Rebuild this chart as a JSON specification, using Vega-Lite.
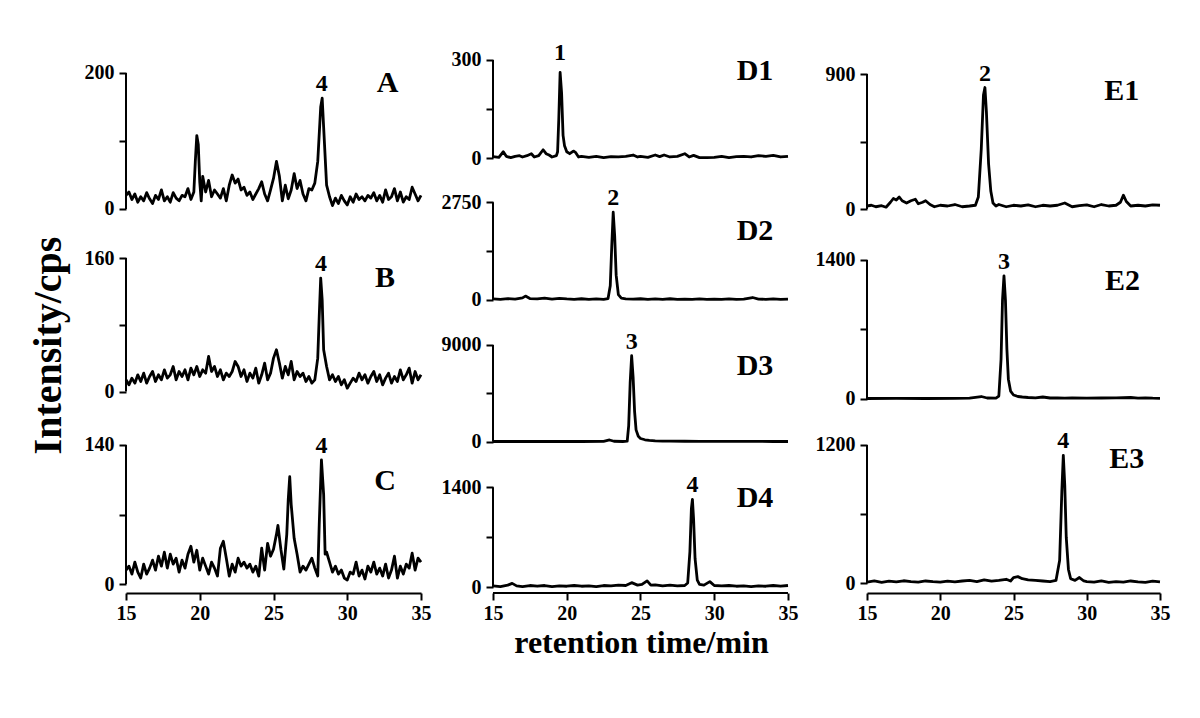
{
"$schema":"https://vega.github.io/schema/vega-lite/v6.json",
"background":"white",
"padding":{"left":28,"top":40,"right":5,"bottom":5},
"config":{
"view":{"stroke":null,"fill":"white"},
"axis":{"labelFont":"Liberation Serif","labelFontWeight":"bold","labelFontSize":20,"labelColor":"#000","tickColor":"#000","tickWidth":2,"tickSize":7,"domainColor":"#000","domainWidth":2,"labelPadding":3,"labelFlush":false,"labelOverlap":false,"grid":false,"titleFont":"Liberation Serif","titleFontWeight":"bold","titleColor":"#000"},
"axisY":{"labelPadding":5},
"text":{"font":"Liberation Serif","fontWeight":"bold","color":"#000"},
"line":{"color":"#000","strokeWidth":2.8,"strokeJoin":"round"}
},
"datasets":{
"A":[{"t":15,"v":20},{"t":15.2,"v":25},{"t":15.4,"v":14},{"t":15.6,"v":22},{"t":15.8,"v":10},{"t":16,"v":18},{"t":16.2,"v":12},{"t":16.4,"v":24},{"t":16.6,"v":15},{"t":16.8,"v":8},{"t":17,"v":20},{"t":17.2,"v":14},{"t":17.4,"v":28},{"t":17.6,"v":12},{"t":17.8,"v":18},{"t":18,"v":10},{"t":18.2,"v":24},{"t":18.4,"v":16},{"t":18.6,"v":12},{"t":18.8,"v":20},{"t":19,"v":18},{"t":19.2,"v":30},{"t":19.4,"v":14},{"t":19.6,"v":25},{"t":19.7,"v":70},{"t":19.8,"v":108},{"t":19.9,"v":95},{"t":20,"v":40},{"t":20.1,"v":12},{"t":20.2,"v":48},{"t":20.4,"v":25},{"t":20.6,"v":42},{"t":20.8,"v":18},{"t":21,"v":28},{"t":21.2,"v":22},{"t":21.4,"v":16},{"t":21.6,"v":30},{"t":21.8,"v":12},{"t":22,"v":35},{"t":22.2,"v":50},{"t":22.4,"v":38},{"t":22.6,"v":44},{"t":22.8,"v":28},{"t":23,"v":32},{"t":23.2,"v":20},{"t":23.4,"v":25},{"t":23.6,"v":14},{"t":23.8,"v":22},{"t":24,"v":30},{"t":24.2,"v":40},{"t":24.4,"v":22},{"t":24.6,"v":12},{"t":24.8,"v":28},{"t":25,"v":45},{"t":25.2,"v":70},{"t":25.4,"v":48},{"t":25.6,"v":12},{"t":25.8,"v":35},{"t":26,"v":15},{"t":26.2,"v":28},{"t":26.4,"v":52},{"t":26.6,"v":30},{"t":26.8,"v":42},{"t":27,"v":22},{"t":27.2,"v":12},{"t":27.4,"v":30},{"t":27.6,"v":28},{"t":27.8,"v":38},{"t":28,"v":70},{"t":28.2,"v":150},{"t":28.3,"v":163},{"t":28.4,"v":120},{"t":28.6,"v":35},{"t":28.8,"v":18},{"t":29,"v":5},{"t":29.2,"v":16},{"t":29.4,"v":8},{"t":29.6,"v":20},{"t":29.8,"v":12},{"t":30,"v":6},{"t":30.2,"v":18},{"t":30.4,"v":10},{"t":30.6,"v":22},{"t":30.8,"v":14},{"t":31,"v":18},{"t":31.2,"v":12},{"t":31.4,"v":20},{"t":31.6,"v":16},{"t":31.8,"v":24},{"t":32,"v":12},{"t":32.2,"v":20},{"t":32.4,"v":10},{"t":32.6,"v":28},{"t":32.8,"v":14},{"t":33,"v":18},{"t":33.2,"v":30},{"t":33.4,"v":12},{"t":33.6,"v":25},{"t":33.8,"v":10},{"t":34,"v":18},{"t":34.2,"v":14},{"t":34.4,"v":32},{"t":34.6,"v":22},{"t":34.8,"v":12},{"t":35,"v":20}],
"B":[{"t":15,"v":14},{"t":15.2,"v":8},{"t":15.4,"v":16},{"t":15.6,"v":10},{"t":15.8,"v":20},{"t":16,"v":12},{"t":16.2,"v":22},{"t":16.4,"v":10},{"t":16.6,"v":18},{"t":16.8,"v":24},{"t":17,"v":12},{"t":17.2,"v":20},{"t":17.4,"v":14},{"t":17.6,"v":26},{"t":17.8,"v":16},{"t":18,"v":20},{"t":18.2,"v":30},{"t":18.4,"v":14},{"t":18.6,"v":24},{"t":18.8,"v":18},{"t":19,"v":26},{"t":19.2,"v":14},{"t":19.4,"v":28},{"t":19.6,"v":20},{"t":19.8,"v":30},{"t":20,"v":18},{"t":20.2,"v":26},{"t":20.4,"v":22},{"t":20.6,"v":42},{"t":20.8,"v":24},{"t":21,"v":30},{"t":21.2,"v":18},{"t":21.4,"v":26},{"t":21.6,"v":14},{"t":21.8,"v":22},{"t":22,"v":18},{"t":22.2,"v":24},{"t":22.4,"v":36},{"t":22.6,"v":30},{"t":22.8,"v":18},{"t":23,"v":26},{"t":23.2,"v":12},{"t":23.4,"v":22},{"t":23.6,"v":16},{"t":23.8,"v":28},{"t":24,"v":10},{"t":24.2,"v":20},{"t":24.4,"v":34},{"t":24.6,"v":14},{"t":24.8,"v":22},{"t":25,"v":40},{"t":25.2,"v":50},{"t":25.4,"v":34},{"t":25.6,"v":16},{"t":25.8,"v":30},{"t":26,"v":20},{"t":26.2,"v":36},{"t":26.4,"v":14},{"t":26.6,"v":24},{"t":26.8,"v":18},{"t":27,"v":22},{"t":27.2,"v":12},{"t":27.4,"v":18},{"t":27.6,"v":10},{"t":27.8,"v":14},{"t":28,"v":40},{"t":28.1,"v":90},{"t":28.2,"v":136},{"t":28.3,"v":110},{"t":28.4,"v":50},{"t":28.6,"v":30},{"t":28.8,"v":14},{"t":29,"v":20},{"t":29.2,"v":12},{"t":29.4,"v":18},{"t":29.6,"v":8},{"t":29.8,"v":14},{"t":30,"v":4},{"t":30.2,"v":10},{"t":30.4,"v":16},{"t":30.6,"v":12},{"t":30.8,"v":22},{"t":31,"v":14},{"t":31.2,"v":20},{"t":31.4,"v":10},{"t":31.6,"v":18},{"t":31.8,"v":24},{"t":32,"v":12},{"t":32.2,"v":20},{"t":32.4,"v":8},{"t":32.6,"v":16},{"t":32.8,"v":22},{"t":33,"v":10},{"t":33.2,"v":18},{"t":33.4,"v":12},{"t":33.6,"v":26},{"t":33.8,"v":14},{"t":34,"v":20},{"t":34.2,"v":28},{"t":34.4,"v":10},{"t":34.6,"v":24},{"t":34.8,"v":14},{"t":35,"v":20}],
"C":[{"t":15,"v":14},{"t":15.2,"v":18},{"t":15.4,"v":10},{"t":15.6,"v":22},{"t":15.8,"v":12},{"t":16,"v":6},{"t":16.2,"v":20},{"t":16.4,"v":10},{"t":16.6,"v":16},{"t":16.8,"v":24},{"t":17,"v":14},{"t":17.2,"v":28},{"t":17.4,"v":18},{"t":17.6,"v":32},{"t":17.8,"v":16},{"t":18,"v":30},{"t":18.2,"v":20},{"t":18.4,"v":26},{"t":18.6,"v":12},{"t":18.8,"v":24},{"t":19,"v":16},{"t":19.2,"v":30},{"t":19.4,"v":38},{"t":19.6,"v":22},{"t":19.8,"v":34},{"t":20,"v":14},{"t":20.2,"v":26},{"t":20.4,"v":18},{"t":20.6,"v":10},{"t":20.8,"v":22},{"t":21,"v":16},{"t":21.2,"v":8},{"t":21.4,"v":36},{"t":21.6,"v":43},{"t":21.8,"v":26},{"t":22,"v":8},{"t":22.2,"v":20},{"t":22.4,"v":12},{"t":22.6,"v":26},{"t":22.8,"v":18},{"t":23,"v":22},{"t":23.2,"v":16},{"t":23.4,"v":20},{"t":23.6,"v":12},{"t":23.8,"v":18},{"t":24,"v":8},{"t":24.2,"v":36},{"t":24.4,"v":14},{"t":24.6,"v":41},{"t":24.8,"v":28},{"t":25,"v":35},{"t":25.2,"v":50},{"t":25.3,"v":59},{"t":25.5,"v":35},{"t":25.7,"v":15},{"t":25.9,"v":50},{"t":26,"v":85},{"t":26.1,"v":108},{"t":26.2,"v":80},{"t":26.4,"v":46},{"t":26.6,"v":30},{"t":26.8,"v":12},{"t":27,"v":18},{"t":27.2,"v":14},{"t":27.4,"v":20},{"t":27.6,"v":26},{"t":27.8,"v":16},{"t":28,"v":8},{"t":28.1,"v":60},{"t":28.25,"v":125},{"t":28.4,"v":90},{"t":28.5,"v":30},{"t":28.6,"v":32},{"t":28.8,"v":22},{"t":29,"v":12},{"t":29.2,"v":18},{"t":29.4,"v":10},{"t":29.6,"v":14},{"t":29.8,"v":6},{"t":30,"v":4},{"t":30.2,"v":12},{"t":30.4,"v":10},{"t":30.6,"v":22},{"t":30.8,"v":8},{"t":31,"v":14},{"t":31.2,"v":5},{"t":31.4,"v":18},{"t":31.6,"v":12},{"t":31.8,"v":22},{"t":32,"v":10},{"t":32.2,"v":16},{"t":32.4,"v":8},{"t":32.6,"v":20},{"t":32.8,"v":6},{"t":33,"v":14},{"t":33.2,"v":28},{"t":33.4,"v":6},{"t":33.6,"v":18},{"t":33.8,"v":10},{"t":34,"v":20},{"t":34.2,"v":16},{"t":34.4,"v":31},{"t":34.6,"v":14},{"t":34.8,"v":26},{"t":35,"v":22}],
"D1":[{"t":15,"v":5},{"t":15.4,"v":3},{"t":15.7,"v":20},{"t":15.9,"v":6},{"t":16.2,"v":2},{"t":16.5,"v":6},{"t":16.8,"v":8},{"t":17,"v":4},{"t":17.3,"v":8},{"t":17.6,"v":14},{"t":17.8,"v":4},{"t":18.1,"v":8},{"t":18.4,"v":26},{"t":18.6,"v":14},{"t":18.8,"v":10},{"t":19,"v":4},{"t":19.3,"v":8},{"t":19.38,"v":20},{"t":19.46,"v":120},{"t":19.55,"v":262},{"t":19.65,"v":200},{"t":19.75,"v":70},{"t":19.85,"v":38},{"t":20,"v":20},{"t":20.2,"v":14},{"t":20.45,"v":22},{"t":20.6,"v":18},{"t":20.8,"v":4},{"t":21,"v":6},{"t":21.5,"v":3},{"t":22,"v":6},{"t":22.5,"v":2},{"t":23,"v":5},{"t":23.5,"v":4},{"t":24,"v":6},{"t":24.5,"v":10},{"t":24.8,"v":4},{"t":25,"v":6},{"t":25.5,"v":3},{"t":26,"v":10},{"t":26.3,"v":5},{"t":26.6,"v":10},{"t":27,"v":4},{"t":27.5,"v":6},{"t":28,"v":14},{"t":28.3,"v":4},{"t":28.6,"v":9},{"t":29,"v":2},{"t":29.5,"v":2},{"t":30,"v":3},{"t":30.5,"v":6},{"t":31,"v":2},{"t":31.5,"v":5},{"t":32,"v":6},{"t":32.5,"v":4},{"t":33,"v":8},{"t":33.5,"v":6},{"t":34,"v":9},{"t":34.5,"v":4},{"t":35,"v":6}],
"D2":[{"t":15,"v":30},{"t":15.5,"v":20},{"t":16,"v":40},{"t":16.5,"v":25},{"t":17,"v":60},{"t":17.2,"v":110},{"t":17.5,"v":40},{"t":18,"v":30},{"t":18.5,"v":50},{"t":19,"v":25},{"t":19.5,"v":45},{"t":20,"v":30},{"t":20.5,"v":20},{"t":21,"v":35},{"t":21.5,"v":20},{"t":22,"v":30},{"t":22.5,"v":20},{"t":22.8,"v":40},{"t":22.95,"v":400},{"t":23.05,"v":1500},{"t":23.15,"v":2470},{"t":23.25,"v":1800},{"t":23.35,"v":700},{"t":23.5,"v":150},{"t":23.7,"v":50},{"t":24,"v":30},{"t":24.5,"v":25},{"t":25,"v":35},{"t":25.5,"v":20},{"t":26,"v":30},{"t":26.5,"v":20},{"t":27,"v":35},{"t":27.5,"v":20},{"t":28,"v":25},{"t":28.5,"v":15},{"t":29,"v":30},{"t":29.5,"v":20},{"t":30,"v":25},{"t":30.5,"v":15},{"t":31,"v":30},{"t":31.5,"v":20},{"t":32,"v":25},{"t":32.6,"v":70},{"t":33,"v":25},{"t":33.5,"v":20},{"t":34,"v":30},{"t":34.5,"v":15},{"t":35,"v":25}],
"D3":[{"t":15,"v":20},{"t":17,"v":20},{"t":19,"v":20},{"t":21,"v":20},{"t":22.5,"v":30},{"t":22.9,"v":160},{"t":23.2,"v":40},{"t":23.8,"v":20},{"t":24.1,"v":60},{"t":24.2,"v":1500},{"t":24.3,"v":5500},{"t":24.4,"v":8000},{"t":24.5,"v":6000},{"t":24.6,"v":2800},{"t":24.7,"v":1100},{"t":24.85,"v":500},{"t":25,"v":300},{"t":25.3,"v":180},{"t":25.6,"v":120},{"t":26,"v":80},{"t":26.5,"v":60},{"t":27,"v":50},{"t":28,"v":40},{"t":29,"v":35},{"t":30,"v":30},{"t":31,"v":28},{"t":32,"v":25},{"t":33,"v":22},{"t":34,"v":20},{"t":35,"v":20}],
"D4":[{"t":15,"v":20},{"t":15.5,"v":10},{"t":16,"v":30},{"t":16.3,"v":55},{"t":16.6,"v":20},{"t":17,"v":10},{"t":17.5,"v":25},{"t":18,"v":15},{"t":18.5,"v":25},{"t":19,"v":10},{"t":19.5,"v":20},{"t":20,"v":15},{"t":20.5,"v":25},{"t":21,"v":15},{"t":21.5,"v":20},{"t":22,"v":10},{"t":22.5,"v":25},{"t":23,"v":20},{"t":23.5,"v":30},{"t":24,"v":25},{"t":24.4,"v":65},{"t":24.8,"v":30},{"t":25.1,"v":40},{"t":25.45,"v":90},{"t":25.7,"v":30},{"t":26,"v":35},{"t":26.5,"v":20},{"t":27,"v":30},{"t":27.5,"v":20},{"t":28,"v":25},{"t":28.2,"v":60},{"t":28.35,"v":500},{"t":28.45,"v":1100},{"t":28.52,"v":1230},{"t":28.6,"v":950},{"t":28.7,"v":400},{"t":28.85,"v":100},{"t":29,"v":40},{"t":29.3,"v":30},{"t":29.7,"v":80},{"t":30,"v":25},{"t":30.5,"v":20},{"t":31,"v":25},{"t":31.5,"v":15},{"t":32,"v":20},{"t":32.5,"v":10},{"t":33,"v":20},{"t":33.5,"v":15},{"t":34,"v":25},{"t":34.5,"v":15},{"t":35,"v":25}],
"E1":[{"t":15,"v":20},{"t":15.3,"v":25},{"t":15.6,"v":15},{"t":16,"v":22},{"t":16.3,"v":12},{"t":16.6,"v":45},{"t":16.8,"v":70},{"t":17,"v":60},{"t":17.2,"v":80},{"t":17.4,"v":55},{"t":17.7,"v":40},{"t":18,"v":55},{"t":18.3,"v":65},{"t":18.5,"v":35},{"t":18.8,"v":45},{"t":19,"v":55},{"t":19.3,"v":30},{"t":19.6,"v":15},{"t":20,"v":25},{"t":20.5,"v":20},{"t":21,"v":30},{"t":21.5,"v":15},{"t":22,"v":20},{"t":22.4,"v":25},{"t":22.6,"v":80},{"t":22.8,"v":400},{"t":22.95,"v":760},{"t":23.05,"v":810},{"t":23.15,"v":650},{"t":23.3,"v":300},{"t":23.45,"v":120},{"t":23.6,"v":40},{"t":23.8,"v":20},{"t":24,"v":30},{"t":24.5,"v":15},{"t":25,"v":25},{"t":25.5,"v":20},{"t":26,"v":28},{"t":26.5,"v":15},{"t":27,"v":25},{"t":27.5,"v":20},{"t":28,"v":25},{"t":28.5,"v":40},{"t":28.7,"v":30},{"t":29,"v":15},{"t":29.5,"v":22},{"t":30,"v":28},{"t":30.5,"v":15},{"t":31,"v":30},{"t":31.5,"v":20},{"t":32,"v":25},{"t":32.3,"v":45},{"t":32.5,"v":92},{"t":32.7,"v":50},{"t":33,"v":20},{"t":33.5,"v":25},{"t":34,"v":20},{"t":34.5,"v":28},{"t":35,"v":25}],
"E2":[{"t":15,"v":5},{"t":17,"v":6},{"t":19,"v":5},{"t":21,"v":6},{"t":22,"v":8},{"t":22.8,"v":25},{"t":23.2,"v":10},{"t":23.8,"v":8},{"t":24,"v":30},{"t":24.15,"v":400},{"t":24.25,"v":1000},{"t":24.35,"v":1240},{"t":24.45,"v":1000},{"t":24.55,"v":500},{"t":24.65,"v":200},{"t":24.8,"v":80},{"t":25,"v":40},{"t":25.3,"v":25},{"t":25.6,"v":20},{"t":26,"v":15},{"t":26.5,"v":12},{"t":27,"v":20},{"t":27.5,"v":10},{"t":28,"v":12},{"t":28.5,"v":8},{"t":29,"v":10},{"t":30,"v":8},{"t":31,"v":10},{"t":32,"v":12},{"t":33,"v":15},{"t":33.5,"v":8},{"t":34,"v":12},{"t":34.5,"v":8},{"t":35,"v":6}],
"E3":[{"t":15,"v":10},{"t":15.5,"v":20},{"t":16,"v":8},{"t":16.5,"v":18},{"t":17,"v":12},{"t":17.5,"v":22},{"t":18,"v":15},{"t":18.5,"v":10},{"t":19,"v":20},{"t":19.5,"v":14},{"t":20,"v":10},{"t":20.5,"v":18},{"t":21,"v":12},{"t":21.5,"v":20},{"t":22,"v":25},{"t":22.5,"v":15},{"t":23,"v":30},{"t":23.5,"v":18},{"t":24,"v":25},{"t":24.5,"v":35},{"t":24.8,"v":20},{"t":25,"v":50},{"t":25.3,"v":58},{"t":25.6,"v":40},{"t":26,"v":30},{"t":26.5,"v":25},{"t":27,"v":20},{"t":27.5,"v":15},{"t":27.9,"v":25},{"t":28.15,"v":200},{"t":28.3,"v":800},{"t":28.4,"v":1110},{"t":28.5,"v":850},{"t":28.6,"v":400},{"t":28.75,"v":120},{"t":28.9,"v":40},{"t":29.2,"v":25},{"t":29.5,"v":50},{"t":29.8,"v":20},{"t":30,"v":15},{"t":30.5,"v":10},{"t":31,"v":20},{"t":31.5,"v":8},{"t":32,"v":15},{"t":32.5,"v":10},{"t":33,"v":20},{"t":33.5,"v":12},{"t":34,"v":8},{"t":34.5,"v":18},{"t":35,"v":12}]
},
"spacing":72,
"bounds":"flush",
"hconcat":[
{"width":295,"height":553,"resolve":{"scale":{"y":"independent"}},"layer":[
{"data":{"name":"A"},"layer":[
{"mark":{"type":"line"},"encoding":{"x":{"field":"t","type":"quantitative","scale":{"domain":[15,35],"nice":false,"zero":false}},"y":{"field":"v","type":"quantitative","scale":{"domain":[-564.7,248.5],"nice":false,"zero":false},"axis":{"orient":"left","values":[0,100,200],"format":"d","labelExpr":"datum.value === 100 ? '' : datum.label","title":null,"domain":false}}}},
{"data":{"values":[{}]},"mark":{"type":"rule","color":"#000","strokeWidth":2},"encoding":{"x":{"datum":15},"y":{"datum":0},"y2":{"datum":200}}},
{"data":{"values":[{"t":28.27,"v":163,"lab":"4"}]},"mark":{"type":"text","fontSize":24,"dy":-7,"baseline":"alphabetic"},"encoding":{"x":{"field":"t","type":"quantitative"},"y":{"field":"v","type":"quantitative"},"text":{"field":"lab"}}},
{"data":{"values":[{}]},"mark":{"type":"text","fontSize":30,"baseline":"alphabetic"},"encoding":{"x":{"datum":32.73},"y":{"datum":171.6},"text":{"value":"A"}}}
]},
{"data":{"name":"B"},"layer":[
{"mark":{"type":"line"},"encoding":{"x":{"field":"t","type":"quantitative","scale":{"domain":[15,35],"nice":false,"zero":false}},"y":{"field":"v","type":"quantitative","scale":{"domain":[-241.5,421.3],"nice":false,"zero":false},"axis":{"orient":"left","values":[0,80,160],"format":"d","labelExpr":"datum.value === 80 ? '' : datum.label","title":"Intensity/cps","titleFontSize":40,"titleAngle":270,"titleAlign":"center","titleBaseline":"alphabetic","titleX":-66,"titleY":305,"domain":false}}}},
{"data":{"values":[{}]},"mark":{"type":"rule","color":"#000","strokeWidth":2},"encoding":{"x":{"datum":15},"y":{"datum":0},"y2":{"datum":160}}},
{"data":{"values":[{"t":28.22,"v":136,"lab":"4"}]},"mark":{"type":"text","fontSize":24,"dy":-7,"baseline":"alphabetic"},"encoding":{"x":{"field":"t","type":"quantitative"},"y":{"field":"v","type":"quantitative"},"text":{"field":"lab"}}},
{"data":{"values":[{}]},"mark":{"type":"text","fontSize":30,"baseline":"alphabetic"},"encoding":{"x":{"datum":32.56},"y":{"datum":125.6},"text":{"value":"B"}}}
]},
{"data":{"name":"C"},"layer":[
{"mark":{"type":"line"},"encoding":{"x":{"field":"t","type":"quantitative","scale":{"domain":[15,35],"nice":false,"zero":false},"axis":{"orient":"bottom","values":[15,17.5,20,22.5,25,27.5,30,32.5,35],"format":"d","labelExpr":"datum.value % 5 === 0 ? datum.label : ''","title":null}},"y":{"field":"v","type":"quantitative","scale":{"domain":[-9.06,547.9],"nice":false,"zero":false},"axis":{"orient":"left","values":[0,70,140],"format":"d","labelExpr":"datum.value === 70 ? '' : datum.label","title":null,"domain":false}}}},
{"data":{"values":[{}]},"mark":{"type":"rule","color":"#000","strokeWidth":2},"encoding":{"x":{"datum":15},"y":{"datum":0},"y2":{"datum":140}}},
{"data":{"values":[{"t":28.25,"v":125,"lab":"4"}]},"mark":{"type":"text","fontSize":24,"dy":-7,"baseline":"alphabetic"},"encoding":{"x":{"field":"t","type":"quantitative"},"y":{"field":"v","type":"quantitative"},"text":{"field":"lab"}}},
{"data":{"values":[{}]},"mark":{"type":"text","fontSize":30,"baseline":"alphabetic"},"encoding":{"x":{"datum":32.56},"y":{"datum":94.7},"text":{"value":"C"}}}
]}
]},
{"width":302,"height":553,"resolve":{"scale":{"y":"independent"}},"layer":[
{"data":{"name":"D1"},"layer":[
{"mark":{"type":"line"},"encoding":{"x":{"field":"t","type":"quantitative","scale":{"domain":[15,35.475],"nice":false,"zero":false}},"y":{"field":"v","type":"quantitative","scale":{"domain":[-1326.7,361.0],"nice":false,"zero":false},"axis":{"orient":"left","values":[0,150,300],"format":"d","labelExpr":"datum.value === 150 ? '' : datum.label","title":null,"domain":false}}}},
{"data":{"values":[{}]},"mark":{"type":"rule","color":"#000","strokeWidth":2},"encoding":{"x":{"datum":15},"y":{"datum":0},"y2":{"datum":300}}},
{"data":{"values":[{"t":19.55,"v":262,"lab":"1"}]},"mark":{"type":"text","fontSize":24,"dy":-12,"baseline":"alphabetic"},"encoding":{"x":{"field":"t","type":"quantitative"},"y":{"field":"v","type":"quantitative"},"text":{"field":"lab"}}},
{"data":{"values":[{}]},"mark":{"type":"text","fontSize":30,"baseline":"alphabetic"},"encoding":{"x":{"datum":32.76},"y":{"datum":239},"text":{"value":"D1"}}}
]},
{"data":{"name":"D2"},"layer":[
{"mark":{"type":"line"},"encoding":{"x":{"field":"t","type":"quantitative","scale":{"domain":[15,35.475],"nice":false,"zero":false}},"y":{"field":"v","type":"quantitative","scale":{"domain":[-8247.1,7318.2],"nice":false,"zero":false},"axis":{"orient":"left","values":[0,1375,2750],"format":"d","labelExpr":"datum.value === 1375 ? '' : datum.label","title":null,"domain":false}}}},
{"data":{"values":[{}]},"mark":{"type":"rule","color":"#000","strokeWidth":2},"encoding":{"x":{"datum":15},"y":{"datum":0},"y2":{"datum":2750}}},
{"data":{"values":[{"t":23.15,"v":2470,"lab":"2"}]},"mark":{"type":"text","fontSize":24,"dy":-7,"baseline":"alphabetic"},"encoding":{"x":{"field":"t","type":"quantitative"},"y":{"field":"v","type":"quantitative"},"text":{"field":"lab"}}},
{"data":{"values":[{}]},"mark":{"type":"text","fontSize":30,"baseline":"alphabetic"},"encoding":{"x":{"datum":32.76},"y":{"datum":1689},"text":{"value":"D2"}}}
]},
{"data":{"name":"D3"},"layer":[
{"mark":{"type":"line"},"encoding":{"x":{"field":"t","type":"quantitative","scale":{"domain":[15,35.475],"nice":false,"zero":false}},"y":{"field":"v","type":"quantitative","scale":{"domain":[-14081.6,37386.6],"nice":false,"zero":false},"axis":{"orient":"left","values":[0,4500,9000],"format":"d","labelExpr":"datum.value === 4500 ? '' : datum.label","title":null,"domain":false}}}},
{"data":{"values":[{}]},"mark":{"type":"rule","color":"#000","strokeWidth":2},"encoding":{"x":{"datum":15},"y":{"datum":0},"y2":{"datum":9000}}},
{"data":{"values":[{"t":24.4,"v":8000,"lab":"3"}]},"mark":{"type":"text","fontSize":24,"dy":-7,"baseline":"alphabetic"},"encoding":{"x":{"field":"t","type":"quantitative"},"y":{"field":"v","type":"quantitative"},"text":{"field":"lab"}}},
{"data":{"values":[{}]},"mark":{"type":"text","fontSize":30,"baseline":"alphabetic"},"encoding":{"x":{"datum":32.76},"y":{"datum":6208},"text":{"value":"D3"}}}
]},
{"data":{"name":"D4"},"layer":[
{"mark":{"type":"line"},"encoding":{"x":{"field":"t","type":"quantitative","scale":{"domain":[15,35.475],"nice":false,"zero":false},"axis":{"orient":"bottom","values":[15,17.5,20,22.5,25,27.5,30,32.5,35],"format":"d","labelExpr":"datum.value % 5 === 0 ? datum.label : ''","title":"retention time/min","titleFontSize":32,"titlePadding":4,"titleX":148,"domain":false}},"y":{"field":"v","type":"quantitative","scale":{"domain":[-79.8,7662.2],"nice":false,"zero":false},"axis":{"orient":"left","values":[0,700,1400],"format":"d","labelExpr":"datum.value === 700 ? '' : datum.label","title":null,"domain":false}}}},
{"data":{"values":[{}]},"mark":{"type":"rule","color":"#000","strokeWidth":2},"encoding":{"x":{"datum":15},"y":{"datum":0},"y2":{"datum":1400}}},
{"data":{"values":[{}]},"mark":{"type":"rule","color":"#000","strokeWidth":2},"encoding":{"x":{"datum":15},"x2":{"datum":35},"y":{"datum":-79.8}}},
{"data":{"values":[{"t":28.52,"v":1230,"lab":"4"}]},"mark":{"type":"text","fontSize":24,"dy":-7,"baseline":"alphabetic"},"encoding":{"x":{"field":"t","type":"quantitative"},"y":{"field":"v","type":"quantitative"},"text":{"field":"lab"}}},
{"data":{"values":[{}]},"mark":{"type":"text","fontSize":30,"baseline":"alphabetic"},"encoding":{"x":{"datum":32.76},"y":{"datum":1128},"text":{"value":"D4"}}}
]}
]},
{"width":293,"height":553,"resolve":{"scale":{"y":"independent"}},"layer":[
{"data":{"name":"E1"},"layer":[
{"mark":{"type":"line"},"encoding":{"x":{"field":"t","type":"quantitative","scale":{"domain":[15,35],"nice":false,"zero":false}},"y":{"field":"v","type":"quantitative","scale":{"domain":[-2560.0,1126.7],"nice":false,"zero":false},"axis":{"orient":"left","values":[0,450,900],"format":"d","labelExpr":"datum.value === 450 ? '' : datum.label","title":null,"domain":false}}}},
{"data":{"values":[{}]},"mark":{"type":"rule","color":"#000","strokeWidth":2},"encoding":{"x":{"datum":15},"y":{"datum":0},"y2":{"datum":900}}},
{"data":{"values":[{"t":23.05,"v":810,"lab":"2"}]},"mark":{"type":"text","fontSize":24,"dy":-7,"baseline":"alphabetic"},"encoding":{"x":{"field":"t","type":"quantitative"},"y":{"field":"v","type":"quantitative"},"text":{"field":"lab"}}},
{"data":{"values":[{}]},"mark":{"type":"text","fontSize":30,"baseline":"alphabetic"},"encoding":{"x":{"datum":32.39},"y":{"datum":727},"text":{"value":"E1"}}}
]},
{"data":{"name":"E2"},"layer":[
{"mark":{"type":"line"},"encoding":{"x":{"field":"t","type":"quantitative","scale":{"domain":[15,35],"nice":false,"zero":false}},"y":{"field":"v","type":"quantitative","scale":{"domain":[-1954.0,3615.8],"nice":false,"zero":false},"axis":{"orient":"left","values":[0,700,1400],"format":"d","labelExpr":"datum.value === 700 ? '' : datum.label","title":null,"domain":false}}}},
{"data":{"values":[{}]},"mark":{"type":"rule","color":"#000","strokeWidth":2},"encoding":{"x":{"datum":15},"y":{"datum":0},"y2":{"datum":1400}}},
{"data":{"values":[{"t":24.35,"v":1240,"lab":"3"}]},"mark":{"type":"text","fontSize":24,"dy":-7,"baseline":"alphabetic"},"encoding":{"x":{"field":"t","type":"quantitative"},"y":{"field":"v","type":"quantitative"},"text":{"field":"lab"}}},
{"data":{"values":[{}]},"mark":{"type":"text","fontSize":30,"baseline":"alphabetic"},"encoding":{"x":{"datum":32.44},"y":{"datum":1098},"text":{"value":"E2"}}}
]},
{"data":{"name":"E3"},"layer":[
{"mark":{"type":"line"},"encoding":{"x":{"field":"t","type":"quantitative","scale":{"domain":[15,35],"nice":false,"zero":false},"axis":{"orient":"bottom","values":[15,17.5,20,22.5,25,27.5,30,32.5,35],"format":"d","labelExpr":"datum.value % 5 === 0 ? datum.label : ''","title":null}},"y":{"field":"v","type":"quantitative","scale":{"domain":[-84.2,4714.1],"nice":false,"zero":false},"axis":{"orient":"left","values":[0,600,1200],"format":"d","labelExpr":"datum.value === 600 ? '' : datum.label","title":null,"domain":false}}}},
{"data":{"values":[{}]},"mark":{"type":"rule","color":"#000","strokeWidth":2},"encoding":{"x":{"datum":15},"y":{"datum":0},"y2":{"datum":1200}}},
{"data":{"values":[{"t":28.4,"v":1110,"lab":"4"}]},"mark":{"type":"text","fontSize":24,"dy":-7,"baseline":"alphabetic"},"encoding":{"x":{"field":"t","type":"quantitative"},"y":{"field":"v","type":"quantitative"},"text":{"field":"lab"}}},
{"data":{"values":[{}]},"mark":{"type":"text","fontSize":30,"baseline":"alphabetic"},"encoding":{"x":{"datum":32.73},"y":{"datum":998},"text":{"value":"E3"}}}
]}
]}
]
}
